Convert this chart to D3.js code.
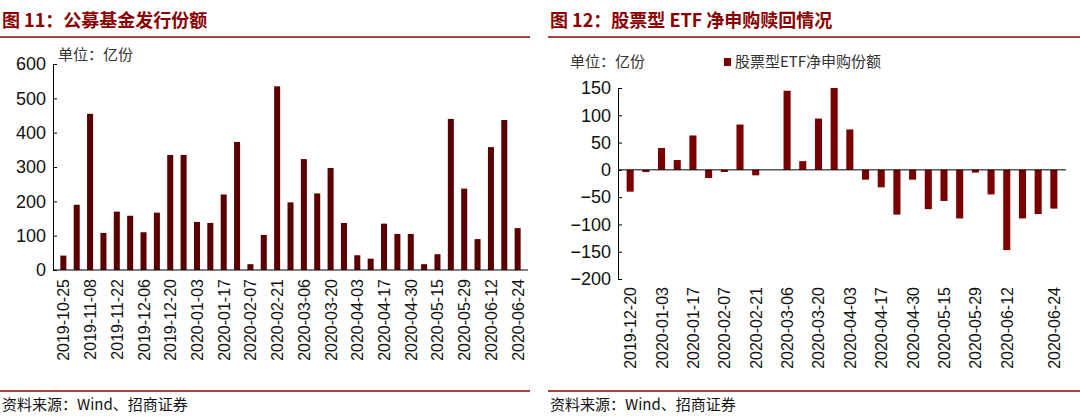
<!DOCTYPE html>
<html>
<head>
<meta charset="utf-8">
<script src="https://cdn.jsdelivr.net/npm/d3@7"></script>
<style>
  body { margin: 0; background: #fff; font-family: "Liberation Sans", Arial, sans-serif; }
  .cn { font-family: "Noto Sans CJK SC", sans-serif; }
</style>
</head>
<body>
<svg id="c" width="1080" height="419"></svg>
<script>
// left chart: fund issuance, weekly
const leftDates = ["2019-10-25","2019-11-01","2019-11-08","2019-11-15","2019-11-22","2019-11-29","2019-12-06","2019-12-13",
  "2019-12-20","2019-12-27","2020-01-03","2020-01-10","2020-01-17","2020-01-23","2020-02-07","2020-02-14","2020-02-21",
  "2020-02-28","2020-03-06","2020-03-13","2020-03-20","2020-03-27","2020-04-03","2020-04-10","2020-04-17","2020-04-24",
  "2020-04-30","2020-05-08","2020-05-15","2020-05-22","2020-05-29","2020-06-05","2020-06-12","2020-06-19","2020-06-24"];
const leftValues = [42,190,455,108,170,158,110,167,335,335,140,137,220,373,17,102,535,197,323,223,297,137,43,33,135,105,105,17,46,440,237,90,358,437,122];
const leftTicks = [0,100,200,300,400,500,600];

// right chart: equity ETF net subscription
const rightDates = ["2019-12-20","2019-12-27","2020-01-03","2020-01-10","2020-01-17","2020-01-23","2020-02-07","2020-02-14",
  "2020-02-21","2020-02-28","2020-03-06","2020-03-13","2020-03-20","2020-03-27","2020-04-03","2020-04-10","2020-04-17",
  "2020-04-24","2020-04-30","2020-05-08","2020-05-15","2020-05-22","2020-05-29","2020-06-05","2020-06-12","2020-06-19",
  "2020-06-22","2020-06-24"];
const rightValues = [-40,-4,40,18,63,-15,-4,83,-10,0,145,16,94,150,74,-18,-32,-82,-18,-72,-57,-89,-5,-45,-147,-89,-81,-71];
const rightTicks = [-200,-150,-100,-50,0,50,100,150];
const rightLabelIdx = [0,2,4,6,8,10,12,14,16,18,20,22,24,27];

const svg = d3.select("#c");
const red = "#8b0000";

function panel(x0, x1, title) {
  svg.append("text").attr("x", x0 + 2).attr("y", 27).attr("class", "cn")
    .attr("font-size", 18).attr("font-weight", "bold").attr("fill", red).text(title);
  svg.append("line").attr("x1", x0).attr("x2", x1).attr("y1", 37).attr("y2", 37).attr("stroke", red).attr("stroke-width", 1.5);
  svg.append("line").attr("x1", x0).attr("x2", x1).attr("y1", 391).attr("y2", 391).attr("stroke", red).attr("stroke-width", 1.5);
  svg.append("text").attr("x", x0 + 2).attr("y", 410).attr("class", "cn")
    .attr("font-size", 15).attr("fill", "#111").text("资料来源：Wind、招商证券");
}
panel(0, 530, "图 11：公募基金发行份额");
panel(548, 1080, "图 12：股票型 ETF 净申购赎回情况");

function bars(cfg) {
  const x = d3.scaleBand().domain(cfg.dates).range([cfg.left, cfg.right]).padding(0.55);
  const y = d3.scaleLinear().domain(cfg.domain).range([cfg.bottom, cfg.top]);
  const g = svg.append("g");
  g.selectAll("rect").data(cfg.values).enter().append("rect")
    .attr("x", (d, i) => x(cfg.dates[i]))
    .attr("width", x.bandwidth())
    .attr("y", d => y(Math.max(0, d)))
    .attr("height", d => Math.abs(y(d) - y(0)))
    .attr("fill", cfg.color);
  const ya = g.append("g").attr("transform", `translate(${cfg.left},0)`)
    .call(d3.axisLeft(y).tickValues(cfg.ticks).tickSize(4).tickSizeOuter(0));
  ya.selectAll("text").attr("font-size", 18).attr("fill", "#111").attr("font-family", "Liberation Sans, Arial");
  ya.select(".domain").attr("stroke", "#000");
  ya.selectAll(".tick line").attr("stroke", "#000").attr("transform", "translate(4,0)");
  g.append("line").attr("x1", cfg.left).attr("x2", cfg.right).attr("y1", y(0)).attr("y2", y(0)).attr("stroke", "#000");
  // rotated date labels
  g.selectAll(".lab").data(cfg.labelIdx).enter().append("text")
    .attr("transform", i => `translate(${x(cfg.dates[i]) + x.bandwidth() / 2 + 6},${cfg.labelTop}) rotate(-90)`)
    .attr("text-anchor", "end").attr("font-size", 16).attr("fill", "#111")
    .attr("font-family", "Liberation Sans, Arial")
    .text(i => cfg.dates[i]);
  return y;
}

bars({ dates: leftDates, values: leftValues, domain: [0, 600], ticks: leftTicks,
  left: 53, right: 528, top: 64, bottom: 270, color: "#5a0000",
  labelIdx: leftDates.map((d, i) => i).filter(i => i % 2 === 0), labelTop: 279 });

bars({ dates: rightDates, values: rightValues, domain: [-200, 150], ticks: rightTicks,
  left: 618, right: 1066, top: 88, bottom: 279, color: "#7a0000",
  labelIdx: rightLabelIdx, labelTop: 287 });

svg.append("text").attr("x", 58).attr("y", 60).attr("class", "cn").attr("font-size", 15).attr("fill", "#333").text("单位：亿份");
svg.append("text").attr("x", 570).attr("y", 67).attr("class", "cn").attr("font-size", 15).attr("fill", "#333").text("单位：亿份");
svg.append("rect").attr("x", 724).attr("y", 58).attr("width", 7).attr("height", 8).attr("fill", "#7a0000");
svg.append("text").attr("x", 735).attr("y", 67).attr("class", "cn").attr("font-size", 15).attr("fill", "#333").text("股票型ETF净申购份额");
</script>
</body>
</html>
